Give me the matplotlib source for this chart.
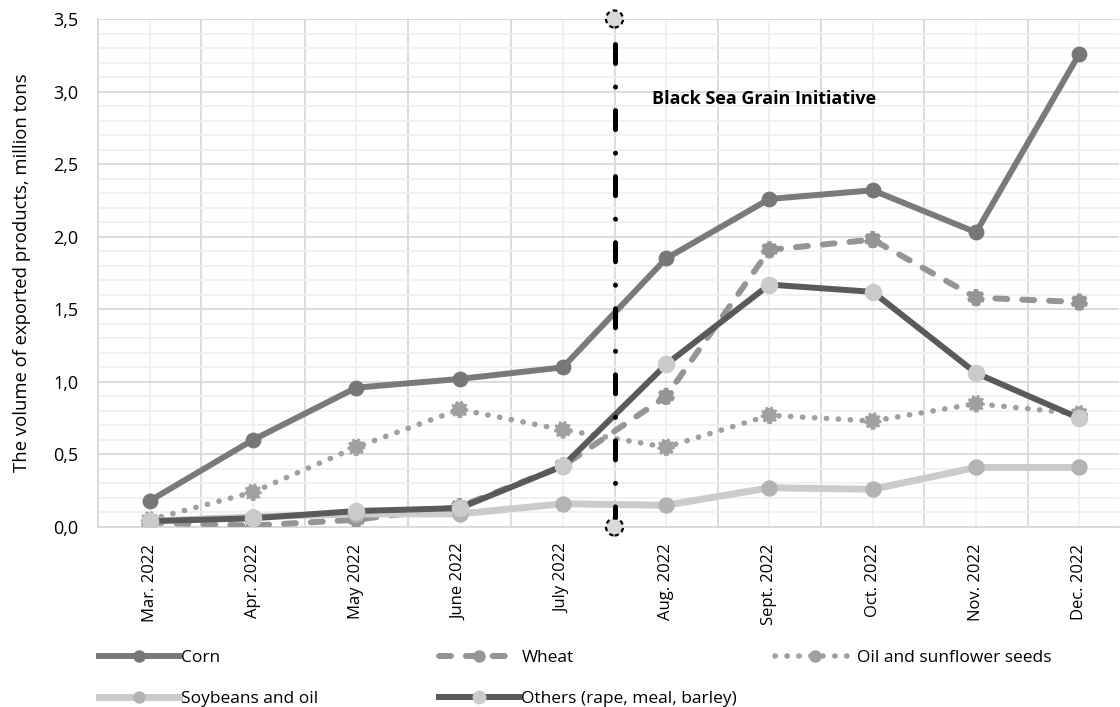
import matplotlib
matplotlib.use("Agg")
import matplotlib.pyplot as plt
from matplotlib.ticker import MultipleLocator, FixedLocator, FuncFormatter
from matplotlib.lines import Line2D

plt.rcParams['font.family'] = ['Open Sans', 'DejaVu Sans']

months = ["Mar. 2022", "Apr. 2022", "May 2022", "June 2022", "July 2022",
          "Aug. 2022", "Sept. 2022", "Oct. 2022", "Nov. 2022", "Dec. 2022"]
corn = [0.18, 0.60, 0.96, 1.02, 1.10, 1.85, 2.26, 2.32, 2.03, 3.26]
wheat = [0.03, 0.01, 0.05, 0.14, 0.42, 0.90, 1.91, 1.98, 1.58, 1.55]
oil_seeds = [0.05, 0.24, 0.55, 0.81, 0.67, 0.55, 0.77, 0.73, 0.85, 0.78]
soybeans = [0.04, 0.07, 0.09, 0.09, 0.16, 0.15, 0.27, 0.26, 0.41, 0.41]
others = [0.04, 0.06, 0.11, 0.13, 0.42, 1.12, 1.67, 1.62, 1.06, 0.75]
initiative_start = 4.5  # between July and August
initiative_label = "Black Sea Grain Initiative"

fig = plt.figure(figsize=(11.2, 7.07), dpi=100)
ax = fig.add_axes([98 / 1120, 180 / 707, (1119 - 98) / 1120, (527 - 19) / 707])

x = list(range(len(months)))

WHEAT_LS = (0, (2.0, 2.5))
OIL_LS = (0, (0.05, 2.1))

# Corn
ax.plot(x, corn, color='#7a7a7a', lw=4.3, solid_capstyle='round', zorder=3)
ax.scatter(x, corn, s=130, color='#777777', zorder=4, linewidths=0)

# Wheat (dashed line, markers with a dashed edge)
ax.plot(x, wheat, color='#959595', lw=4.3, linestyle=WHEAT_LS,
        dash_capstyle='round', zorder=3)
ax.scatter(x, wheat, s=110, facecolor='#959595', edgecolor='#959595',
           linewidths=2.0, linestyle=(0, (1.5, 1.0)), zorder=4)

# Oil and sunflower seeds (dotted)
ax.plot(x, oil_seeds, color='#a0a0a0', lw=4.0, linestyle=OIL_LS,
        dash_capstyle='round', zorder=3)
ax.scatter(x, oil_seeds, s=110, facecolor='#a0a0a0', edgecolor='#a0a0a0',
           linewidths=2.2, linestyle=(0, (0.8, 0.8)), zorder=4)

# Soybeans and oil
ax.plot(x, soybeans, color='#cbcbcb', lw=5.0, solid_capstyle='round', zorder=3)
ax.scatter(x, soybeans, s=140, color='#b3b3b3', zorder=4, linewidths=0)

# Others
ax.plot(x, others, color='#5a5a5a', lw=4.3, solid_capstyle='round', zorder=5)
ax.scatter(x, others, s=160, color='#cbcbcb', zorder=6, linewidths=0)

# Start of the grain initiative: dash-dot line drawn from the top down
ax.plot([initiative_start, initiative_start], [3.5, 0], color='black', lw=3.6,
        linestyle=(8.2, (3.8, 4.7, 0.01, 4.7)), dash_capstyle='round',
        zorder=7, clip_on=False)
ax.scatter([initiative_start, initiative_start], [0, 3.5], s=150,
           facecolor='#d9d9d9', edgecolor='black', linewidths=1.6,
           linestyle=(0, (2.0, 1.6)), zorder=8, clip_on=False)
ax.text(4.86, 2.95, initiative_label, fontsize=13, fontweight='bold',
        ha='left', va='center', zorder=9)

# Axes, grid
ax.set_xlim(-0.5, 9.5 - (1131 - 1119) / 103.3)
ax.set_ylim(0, 3.5)
ax.xaxis.set_major_locator(FixedLocator([i + 0.5 for i in range(-1, 10)]))
ax.xaxis.set_major_formatter(FuncFormatter(lambda v, p: ""))
ax.set_xticks(x, months, minor=True)
ax.yaxis.set_major_locator(MultipleLocator(0.5))
ax.yaxis.set_minor_locator(MultipleLocator(0.1))
ax.yaxis.set_major_formatter(FuncFormatter(lambda v, p: f"{v:.1f}".replace('.', ',')))

ax.grid(which='major', color='#d9d9d9', lw=1.3, zorder=0)
ax.grid(which='minor', color='#f0f0f0', lw=1.3, zorder=0)
ax.set_axisbelow(True)
for s in ('top', 'right'):
    ax.spines[s].set_visible(False)
for s in ('left', 'bottom'):
    ax.spines[s].set_color('#d9d9d9')
    ax.spines[s].set_linewidth(1.3)

ax.tick_params(which='both', length=0)
ax.tick_params(axis='y', labelsize=13, pad=14)
ax.tick_params(axis='x', which='minor', labelsize=12, rotation=90, pad=12)
ax.set_ylabel("The volume of exported products, million tons", fontsize=13.3, labelpad=16)

# Legend, laid out in three columns
h_corn = Line2D([], [], color='#7a7a7a', lw=4.3, marker='o', ms=9,
                markerfacecolor='#777777', markeredgewidth=0)
h_wheat = Line2D([], [], color='#959595', lw=4.3, linestyle=WHEAT_LS,
                 dash_capstyle='round', marker='o', ms=9,
                 markerfacecolor='#959595', markeredgewidth=0)
h_oil = Line2D([], [], color='#a0a0a0', lw=4.0, linestyle=OIL_LS,
               dash_capstyle='round', marker='o', ms=9,
               markerfacecolor='#a0a0a0', markeredgewidth=0)
h_soy = Line2D([], [], color='#cbcbcb', lw=5.0, marker='o', ms=9,
               markerfacecolor='#b3b3b3', markeredgewidth=0)
h_oth = Line2D([], [], color='#5a5a5a', lw=4.3, marker='o', ms=10,
               markerfacecolor='#cbcbcb', markeredgewidth=0)

common = dict(frameon=False, fontsize=12.5, handlelength=4.6, handletextpad=0.15,
              labelspacing=1.45, loc='upper left', borderaxespad=0, borderpad=0)
leg_top = 1 - 650 / 707
fig.legend([h_corn, h_soy], ["Corn", "Soybeans and oil"],
           bbox_to_anchor=(99 / 1120, leg_top), **common)
fig.legend([h_wheat, h_oth], ["Wheat", "Others (rape, meal, barley)"],
           bbox_to_anchor=(439 / 1120, leg_top), **common)
fig.legend([h_oil], ["Oil and sunflower seeds"],
           bbox_to_anchor=(775 / 1120, leg_top), **common)

fig.savefig("out.png", dpi=100)
